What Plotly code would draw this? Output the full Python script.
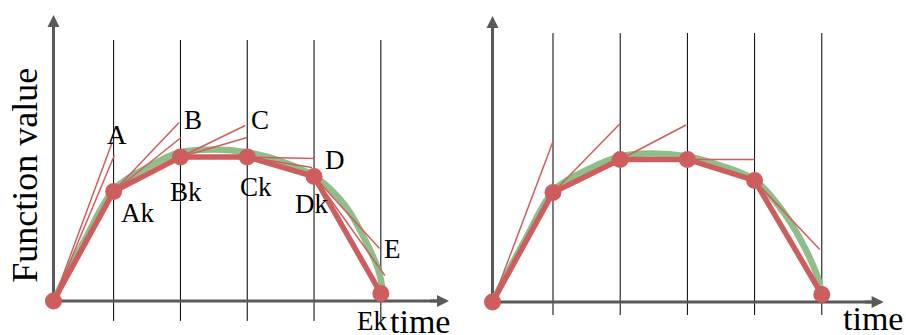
import plotly.graph_objects as go

# ---------------- data ----------------
sample_t = [0.1, 1, 2, 3, 4, 5]
grid_t = [1, 2, 3, 4, 5]

left_vals = [0.0, 0.73, 0.96, 0.96, 0.83, 0.05]
right_vals = [0.0, 0.73, 0.95, 0.95, 0.81, 0.05]

# true function (green) samples
left_curve_t = [0.1, 0.57, 1.02, 1.54, 1.99, 2.52, 3.01, 3.52, 4.01, 4.46, 4.76, 4.96, 5.03]
left_curve_v = [0.0, 0.41, 0.75, 0.90, 0.99, 1.01, 0.99, 0.93, 0.83, 0.64, 0.41, 0.21, 0.07]
right_curve_t = [0.1, 0.58, 1.03, 1.55, 2.0, 2.44, 3.0, 3.49, 4.01, 4.46, 4.76, 4.95, 5.01]
right_curve_v = [0.0, 0.41, 0.75, 0.89, 0.97, 0.99, 0.97, 0.91, 0.81, 0.58, 0.35, 0.15, 0.03]

# tangent line end points (start at sample points 0..4)
left_tan1_t = [0.98, 1.98, 2.97, 4.0, 4.98]
left_tan1_v = [1.06, 1.19, 1.17, 0.95, 0.35]
left_tan2_t = [1.01, 2.01, 3.0, 3.97, 5.06]
left_tan2_v = [0.97, 1.09, 1.09, 0.89, 0.17]
right_tan_t = [1.0, 2.0, 2.98, 4.0, 4.97]
right_tan_v = [1.07, 1.19, 1.18, 0.95, 0.35]

upper_labels = ["A", "B", "C", "D", "E"]
upper_label_t = [1.05, 2.19, 3.19, 4.31, 5.18]
upper_label_v = [1.11, 1.21, 1.21, 0.94, 0.35]
lower_labels = ["Ak", "Bk", "Ck", "Dk", "Ek"]
lower_label_t = [1.35, 2.08, 3.13, 3.96, 4.86]
lower_label_v = [0.59, 0.73, 0.76, 0.65, -0.13]

x_title = "time"
y_title = "Function value"

# ---------------- styles ----------------
RED = "rgb(206,94,94)"
GREEN = "rgb(143,190,139)"
AXIS = "rgb(89,89,89)"
FONT = "Liberation Serif"

fig = go.Figure()

panels = [
    dict(xa="x", ya="y", vals=left_vals, ct=left_curve_t, cv=left_curve_v,
         tans=[(left_tan1_t, left_tan1_v), (left_tan2_t, left_tan2_v)],
         ytip=1.927, xtip=6.07, gtop=1.74, gbot=-0.133),
    dict(xa="x2", ya="y2", vals=right_vals, ct=right_curve_t, cv=right_curve_v,
         tans=[(right_tan_t, right_tan_v)],
         ytip=1.927, xtip=5.97, gtop=1.793, gbot=-0.087),
]

shapes = []
annotations = []

for p in panels:
    xa, ya = p["xa"], p["ya"]
    # vertical grid lines
    for g in grid_t:
        shapes.append(dict(type="line", xref=xa, yref=ya, x0=g, x1=g,
                           y0=p["gbot"], y1=p["gtop"], layer="below",
                           line=dict(color="black", width=1)))
    # axes lines
    fig.add_trace(go.Scatter(x=[sample_t[0], sample_t[0], None, sample_t[0], p["xtip"] - 0.12],
                             y=[-0.01, p["ytip"] - 0.06, None, 0, 0],
                             mode="lines", line=dict(color=AXIS, width=3),
                             xaxis=xa, yaxis=ya, hoverinfo="skip"))
    # arrow heads
    annotations.append(dict(xref=xa, yref=ya, axref=xa, ayref=ya,
                            x=sample_t[0], y=p["ytip"] - 0.02, ax=sample_t[0], ay=p["ytip"] - 0.15,
                            text="", showarrow=True, arrowhead=2, arrowsize=0.8,
                            arrowwidth=3, arrowcolor=AXIS, standoff=0))
    annotations.append(dict(xref=xa, yref=ya, axref=xa, ayref=ya,
                            x=p["xtip"] - 0.05, y=0, ax=p["xtip"] - 0.35, ay=0,
                            text="", showarrow=True, arrowhead=2, arrowsize=0.8,
                            arrowwidth=3, arrowcolor=AXIS, standoff=0))
    # green true curve
    fig.add_trace(go.Scatter(x=p["ct"], y=p["cv"], mode="lines",
                             line=dict(color=GREEN, width=6.5, shape="spline", smoothing=1.0),
                             xaxis=xa, yaxis=ya, hoverinfo="skip"))
    # tangents
    for tt, tv in p["tans"]:
        xs, ys = [], []
        for i in range(5):
            xs += [sample_t[i], tt[i], None]
            ys += [p["vals"][i], tv[i], None]
        fig.add_trace(go.Scatter(x=xs, y=ys, mode="lines",
                                 line=dict(color=RED, width=1.5),
                                 xaxis=xa, yaxis=ya, hoverinfo="skip"))
    # thick red polyline with markers
    fig.add_trace(go.Scatter(x=sample_t, y=p["vals"], mode="lines+markers",
                             line=dict(color=RED, width=5.5),
                             marker=dict(color=RED, size=17),
                             xaxis=xa, yaxis=ya, hoverinfo="skip"))

# labels (left panel)
for lab, t, v in zip(upper_labels, upper_label_t, upper_label_v):
    annotations.append(dict(xref="x", yref="y", x=t, y=v, text=lab, showarrow=False,
                            xanchor="center", yanchor="middle",
                            font=dict(family=FONT, size=27, color="black")))
for lab, t, v in zip(lower_labels, lower_label_t, lower_label_v):
    annotations.append(dict(xref="x", yref="y", x=t, y=v, text=lab, showarrow=False,
                            xanchor="center", yanchor="middle",
                            font=dict(family=FONT, size=27, color="black")))

annotations.append(dict(xref="x", yref="y", x=5.58, y=-0.135, text=x_title, showarrow=False,
                        xanchor="center", yanchor="middle",
                        font=dict(family=FONT, size=34, color="black")))
annotations.append(dict(xref="x2", yref="y2", x=5.76, y=-0.11, text=x_title, showarrow=False,
                        xanchor="center", yanchor="middle",
                        font=dict(family=FONT, size=34, color="black")))
annotations.append(dict(xref="x", yref="y", x=-0.33, y=0.84, text=y_title, showarrow=False,
                        textangle=-90, xanchor="center", yanchor="middle",
                        font=dict(family=FONT, size=36, color="black")))

fig.update_layout(
    width=906, height=335,
    margin=dict(l=0, r=0, t=0, b=0),
    paper_bgcolor="white", plot_bgcolor="white",
    showlegend=False,
    font=dict(family=FONT),
    shapes=shapes, annotations=annotations,
    xaxis=dict(domain=[0, 0.5], range=[-0.701, 6.080], visible=False, fixedrange=True),
    yaxis=dict(domain=[0, 1], range=[-0.2267, 2.0067], visible=False, fixedrange=True),
    xaxis2=dict(domain=[0.5, 1], range=[-0.488, 6.253], visible=False, fixedrange=True),
    yaxis2=dict(domain=[0, 1], range=[-0.22, 2.0133], visible=False, fixedrange=True, anchor="x2"),
)

fig.write_html("out.html", config={"staticPlot": True},
               post_script="document.body.style.margin='0px';document.body.style.overflow='hidden';")
